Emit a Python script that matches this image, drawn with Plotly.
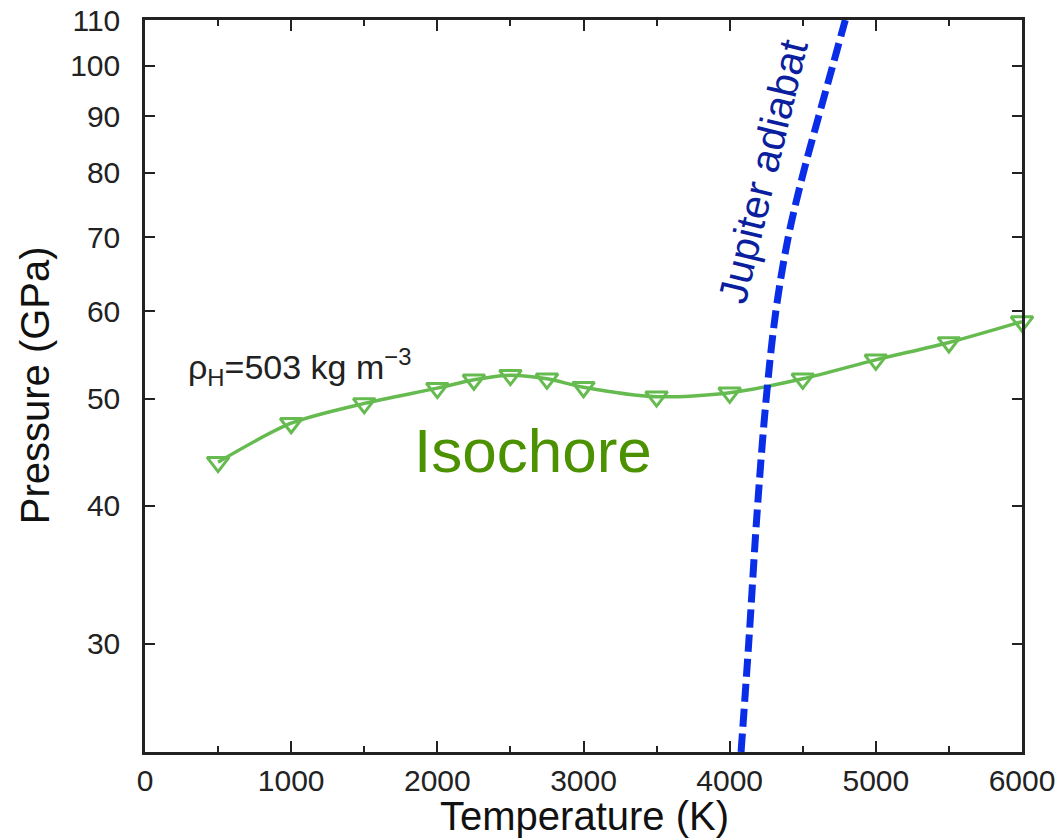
import numpy as np
import plotly.graph_objects as go

# Isochore data (rho_H = 503 kg m^-3)
iso_T = [500, 1000, 1500, 2000, 2250, 2500, 2750, 3000, 3500, 4000, 4500, 5000, 5500, 6000]
iso_P = [43.8, 47.5, 49.5, 51.1, 52.0, 52.5, 52.1, 51.2, 50.2, 50.6, 52.1, 54.2, 56.2, 58.7]

# Jupiter adiabat
adi_T = [4078, 4130, 4191, 4250, 4316, 4401, 4504, 4609, 4705, 4791]
adi_P = [23.95, 30, 40, 50, 60, 70, 80, 90, 100, 110]

y_ticks = [30, 40, 50, 60, 70, 80, 90, 100, 110]
x_ticks = [0, 1000, 2000, 3000, 4000, 5000, 6000]

FONT = "Liberation Sans, Arial, Helvetica, sans-serif"

fig = go.Figure()
fig.add_trace(go.Scatter(
    x=iso_T, y=iso_P, mode="lines+markers",
    line=dict(color="#66bb50", width=3.5, shape="spline", smoothing=0.8),
    marker=dict(symbol="triangle-down-open", size=19, color="#66bb50",
                line=dict(width=3, color="#66bb50")),
    showlegend=False, cliponaxis=False,
))
fig.add_trace(go.Scatter(
    x=adi_T, y=adi_P, mode="lines",
    line=dict(color="#0a2ee8", width=7, dash="18px,7px", shape="spline"),
    showlegend=False,
))

fig.add_annotation(x=280, y=np.log10(53.4), xref="x", yref="y",
                   text="ρ<sub>H</sub>=503 kg m<sup>−3</sup>", showarrow=False,
                   xanchor="left", yanchor="middle",
                   font=dict(family=FONT, size=34, color="#222222"))
fig.add_annotation(x=2654, y=1.652, xref="x", yref="y", text="Isochore",
                   showarrow=False, font=dict(family=FONT, size=62, color="#4b9100"))
fig.add_annotation(x=4228, y=1.905, xref="x", yref="y", text="Jupiter adiabat",
                   showarrow=False, textangle=-76.5,
                   font=dict(family=FONT, size=41, color="#0b1f9e"))

# axis titles
fig.add_annotation(x=0.5006, y=-0.087, xref="paper", yref="paper", text="Temperature (K)",
                   showarrow=False, xanchor="center", yanchor="middle",
                   font=dict(family=FONT, size=40, color="#111"))
fig.add_annotation(x=-0.1254, y=0.501, xref="paper", yref="paper", text="Pressure (GPa)",
                   showarrow=False, xanchor="center", yanchor="middle", textangle=-90,
                   font=dict(family=FONT, size=40, color="#111"))

fig.update_xaxes(
    range=[0, 6000], tickvals=x_ticks, ticktext=[str(v) for v in x_ticks],
    ticks="inside", ticklen=11, tickwidth=2, tickcolor="#222",
    minor=dict(dtick=500, ticks="inside", ticklen=6, tickwidth=2, tickcolor="#222"),
    showline=True, linewidth=2.5, linecolor="#222", mirror="ticks",
    showgrid=False, zeroline=False, automargin=False,
    tickfont=dict(family=FONT, size=30, color="#222"),
)
fig.update_yaxes(
    type="log", range=[np.log10(23.95), np.log10(110)],
    tickvals=y_ticks, ticktext=[str(v) for v in y_ticks],
    ticks="inside", ticklen=10, tickwidth=2, tickcolor="#222",
    showline=True, linewidth=2.5, linecolor="#222", mirror="ticks",
    showgrid=False, zeroline=False, automargin=False, ticklabelstandoff=16,
    tickfont=dict(family=FONT, size=30, color="#222"),
)

fig.update_layout(
    width=1059, height=838,
    margin=dict(l=145, r=37, t=20, b=86),
    paper_bgcolor="white", plot_bgcolor="white",
    font=dict(family=FONT),
)

fig.write_html("out.html", config={"displayModeBar": False},
               post_script="document.body.style.margin='0px';")
